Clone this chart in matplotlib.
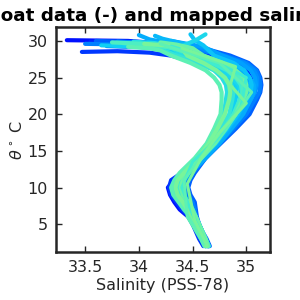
import matplotlib
matplotlib.use("Agg")
import matplotlib.pyplot as plt
from matplotlib.colors import LinearSegmentedColormap

INK = "#262626"

# shared theta levels (deg C) below the mixed layer
theta_grid = [28, 27, 26, 25, 24, 23, 22, 20, 18, 16, 14, 12, 11, 10, 9, 8, 7, 6, 5, 4, 3, 2.0]

# near-surface part of each float profile: salinity and theta
top_sal = [
    [33.33, 33.90, 34.45], [33.50, 34.00, 34.40], [33.47, 33.80, 34.10],
    [33.60, 34.10, 34.50], [33.70, 34.10, 34.35], [33.80, 34.25, 34.55],
    [34.00, 34.10, 34.40], [34.15, 34.22, 34.45], [34.48, 34.52, 34.60],
    [34.62, 34.53, 34.40], [33.85, 34.10, 34.20], [34.00, 34.20, 34.35],
    [33.90, 34.10, 34.20], [34.20, 34.35, 34.50], [34.05, 34.25, 34.40],
    [33.55, 33.95, 34.30], [33.65, 34.00, 34.25], [33.75, 34.05, 34.30],
    [34.30, 34.45, 34.60], [33.95, 34.15, 34.30],
]
top_theta = [
    [30.1, 30.0, 29.4], [29.6, 29.5, 29.2], [28.5, 28.6, 28.4],
    [30.0, 29.8, 29.4], [29.3, 29.1, 28.8], [29.9, 29.6, 29.2],
    [30.8, 30.2, 29.4], [30.7, 30.3, 29.5], [30.9, 30.1, 29.4],
    [30.9, 30.1, 29.3], [29.7, 29.4, 28.9], [29.5, 29.3, 28.9],
    [29.2, 29.0, 28.7], [29.8, 29.5, 29.0], [29.6, 29.4, 29.0],
    [29.9, 29.7, 29.3], [29.4, 29.2, 28.8], [29.8, 29.6, 29.1],
    [30.0, 29.6, 29.2], [29.9, 29.7, 29.2],
]
# salinity on theta_grid for each float profile
grid_sal = [
    [34.70, 34.90, 35.00, 35.04, 35.06, 35.05, 35.02, 34.96, 34.85, 34.73, 34.60, 34.42, 34.33, 34.27, 34.29, 34.33, 34.38, 34.46, 34.50, 34.54, 34.58, 34.62],
    [34.80, 35.00, 35.09, 35.12, 35.13, 35.12, 35.08, 35.00, 34.88, 34.75, 34.62, 34.50, 34.45, 34.42, 34.45, 34.50, 34.52, 34.53, 34.56, 34.58, 34.62, 34.65],
    [34.30, 34.55, 34.75, 34.85, 34.90, 34.90, 34.88, 34.85, 34.78, 34.68, 34.56, 34.40, 34.30, 34.28, 34.30, 34.35, 34.40, 34.47, 34.50, 34.53, 34.56, 34.60],
    [34.85, 35.02, 35.10, 35.13, 35.14, 35.13, 35.10, 35.03, 34.90, 34.76, 34.62, 34.52, 34.48, 34.46, 34.48, 34.52, 34.53, 34.54, 34.56, 34.59, 34.63, 34.66],
    [34.50, 34.72, 34.88, 34.98, 35.04, 35.05, 35.02, 34.95, 34.84, 34.72, 34.58, 34.44, 34.38, 34.34, 34.35, 34.38, 34.42, 34.47, 34.51, 34.55, 34.58, 34.62],
    [34.75, 34.98, 35.07, 35.10, 35.10, 35.08, 35.04, 34.96, 34.85, 34.73, 34.60, 34.47, 34.41, 34.38, 34.40, 34.45, 34.49, 34.52, 34.55, 34.58, 34.62, 34.65],
    [34.60, 34.80, 34.95, 35.03, 35.07, 35.07, 35.04, 34.97, 34.86, 34.75, 34.62, 34.48, 34.42, 34.39, 34.41, 34.46, 34.50, 34.53, 34.56, 34.59, 34.62, 34.65],
    [34.55, 34.74, 34.88, 34.97, 35.02, 35.03, 35.00, 34.93, 34.83, 34.72, 34.58, 34.44, 34.38, 34.35, 34.37, 34.42, 34.47, 34.51, 34.55, 34.58, 34.61, 34.64],
    [34.70, 34.88, 34.98, 35.03, 35.05, 35.04, 35.00, 34.92, 34.82, 34.70, 34.57, 34.45, 34.40, 34.37, 34.39, 34.44, 34.48, 34.52, 34.56, 34.59, 34.62, 34.65],
    [34.45, 34.62, 34.76, 34.86, 34.93, 34.95, 34.94, 34.90, 34.80, 34.70, 34.56, 34.42, 34.36, 34.33, 34.35, 34.40, 34.45, 34.50, 34.54, 34.57, 34.60, 34.63],
    [34.35, 34.55, 34.70, 34.80, 34.86, 34.88, 34.87, 34.84, 34.76, 34.66, 34.54, 34.40, 34.34, 34.31, 34.33, 34.38, 34.43, 34.49, 34.53, 34.56, 34.59, 34.62],
    [34.50, 34.68, 34.82, 34.90, 34.95, 34.96, 34.94, 34.88, 34.79, 34.69, 34.56, 34.43, 34.38, 34.36, 34.38, 34.43, 34.47, 34.51, 34.55, 34.58, 34.61, 34.64],
    [34.30, 34.48, 34.62, 34.70, 34.75, 34.77, 34.77, 34.76, 34.70, 34.63, 34.52, 34.38, 34.33, 34.30, 34.32, 34.37, 34.42, 34.48, 34.52, 34.55, 34.58, 34.61],
    [34.60, 34.78, 34.90, 34.98, 35.00, 35.00, 34.97, 34.90, 34.80, 34.70, 34.58, 34.46, 34.41, 34.39, 34.41, 34.46, 34.50, 34.53, 34.56, 34.59, 34.62, 34.64],
    [34.45, 34.60, 34.72, 34.80, 34.84, 34.85, 34.84, 34.80, 34.73, 34.65, 34.55, 34.42, 34.36, 34.34, 34.36, 34.41, 34.45, 34.50, 34.54, 34.57, 34.60, 34.63],
    [34.62, 34.82, 34.93, 34.98, 35.00, 34.99, 34.96, 34.88, 34.78, 34.67, 34.55, 34.44, 34.39, 34.36, 34.38, 34.43, 34.47, 34.51, 34.55, 34.58, 34.61, 34.64],
    [34.40, 34.60, 34.76, 34.85, 34.90, 34.91, 34.90, 34.86, 34.77, 34.67, 34.55, 34.41, 34.35, 34.32, 34.34, 34.39, 34.44, 34.49, 34.53, 34.56, 34.59, 34.62],
    [34.55, 34.76, 34.88, 34.94, 34.97, 34.97, 34.95, 34.90, 34.81, 34.71, 34.58, 34.46, 34.41, 34.39, 34.41, 34.45, 34.49, 34.53, 34.56, 34.59, 34.62, 34.65],
    [34.78, 34.95, 35.04, 35.08, 35.09, 35.07, 35.03, 34.95, 34.85, 34.73, 34.60, 34.47, 34.42, 34.40, 34.42, 34.47, 34.50, 34.53, 34.56, 34.59, 34.62, 34.65],
    [34.40, 34.58, 34.70, 34.77, 34.81, 34.82, 34.81, 34.79, 34.74, 34.66, 34.55, 34.43, 34.38, 34.36, 34.38, 34.42, 34.46, 34.51, 34.55, 34.58, 34.61, 34.63],
]
# position of each float on the blue -> green colour scale
color_pos = [0.0, 0.3, 0.1, 0.2, 0.25, 0.35, 0.45, 0.5, 0.55, 0.65,
             0.75, 0.8, 0.9, 0.95, 1.0, 0.05, 0.6, 0.85, 0.4, 0.7]

# coarse mapped profiles that cut straight across the bulge
mapped_sal = [
    [34.30, 34.60, 35.00, 34.95, 34.72, 34.50, 34.40, 34.48, 34.62],
    [34.20, 34.75, 35.05, 34.85, 34.62, 34.42, 34.45, 34.60],
    [34.40, 34.90, 34.85, 35.00, 34.75, 34.58, 34.45, 34.52, 34.63],
]
mapped_theta = [
    [29.3, 28.0, 25.0, 21.0, 16.5, 13.5, 10.0, 7.0, 2.4],
    [29.6, 27.0, 23.0, 19.0, 15.0, 11.0, 6.0, 2.3],
    [29.0, 26.5, 24.0, 21.5, 17.5, 14.0, 10.5, 5.5, 2.2],
]

x_ticks = [33.5, 34, 34.5, 35]
x_labels = ["33.5", "34", "34.5", "35"]
y_ticks = [5, 10, 15, 20, 25, 30]

cmap = LinearSegmentedColormap.from_list(
    "floats", ["#0010ff", "#0060ff", "#00a0ff", "#10d0f4", "#40ecd0", "#78f59a"])

fig = plt.figure(figsize=(3, 3), dpi=100)
ax = fig.add_axes([0.187, 0.16, 0.713, 0.75])

# blue floats first, greener ones drawn on top
for k in sorted(range(len(grid_sal)), key=lambda i: color_pos[i]):
    s = top_sal[k] + grid_sal[k]
    t = top_theta[k] + theta_grid
    ax.plot(s, t, color=cmap(color_pos[k]), lw=3.0, solid_capstyle="round",
            solid_joinstyle="round")
for k, (s, t) in enumerate(zip(mapped_sal, mapped_theta)):
    ax.plot(s, t, color=cmap(0.8 + 0.1 * k), lw=2.2, solid_capstyle="round",
            solid_joinstyle="round")

ax.set_xlim(33.23, 35.22)
ax.set_ylim(1.2, 31.9)
ax.set_xticks(x_ticks)
ax.set_xticklabels(x_labels)
ax.set_yticks(y_ticks)
ax.tick_params(direction="in", length=4, width=1, top=True, right=True,
               labelsize=11.5, colors=INK, pad=6)
for sp in ax.spines.values():
    sp.set_color(INK)
    sp.set_linewidth(1.8)

ax.set_xlabel("Salinity (PSS-78)", fontsize=11.5, color=INK, labelpad=2)
ax.set_ylabel(r"$\theta^\circ$ C", fontsize=11.5, color=INK, labelpad=2)
ax.set_title("Float data (-) and mapped salinity", fontsize=13.2, fontweight="bold",
             color="black", pad=4, x=0.48)

fig.savefig("out.png", dpi=100)
